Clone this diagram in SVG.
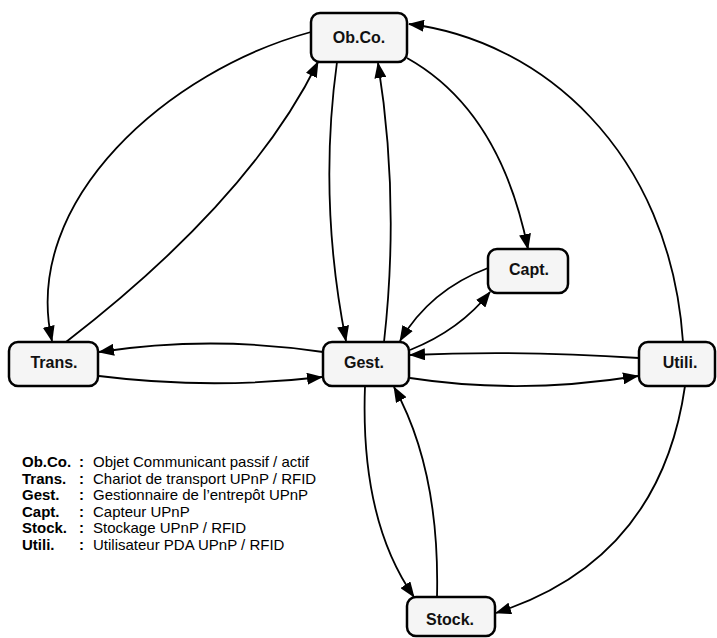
<svg xmlns="http://www.w3.org/2000/svg" width="717" height="638" viewBox="0 0 717 638">
<style>
.node rect{fill:#f5f5f5;stroke:#000;stroke-width:2.5}
.node text{font-family:"Liberation Sans",Arial,sans-serif;font-weight:bold;font-size:16px;text-anchor:middle;fill:#111}
.edges path{fill:none;stroke:#000;stroke-width:1.8;marker-end:url(#ah)}
.leg{font-family:"Liberation Sans",Arial,sans-serif;font-size:15px;fill:#000}
.leg .b{font-weight:bold}
</style>
<defs>
<marker id="ah" markerUnits="userSpaceOnUse" markerWidth="16" markerHeight="12" refX="15" refY="6" orient="auto">
<path d="M0,0 L16,6 L0,12 z" fill="#000"/>
</marker>
</defs>
<rect width="717" height="638" fill="#fff"/>
<g class="edges">
<path d="M683,342 C670,150 540,40 409,24"/>
<path d="M407,58 Q500,110 528,249"/>
<path d="M311,32 C170,70 20,200 52,341"/>
<path d="M66,342 Q250,200 318,62"/>
<path d="M337,62 Q318,200 346,341"/>
<path d="M384,342 Q400,200 378,63"/>
<path d="M488,268 Q430,290 400,341"/>
<path d="M410,350 Q460,330 490,292"/>
<path d="M323,352 Q210,335 99,352"/>
<path d="M99,376 Q210,390 322,377"/>
<path d="M639,358 Q520,350 410,355"/>
<path d="M410,378 Q520,395 638,376"/>
<path d="M365,386 Q360,520 414,597"/>
<path d="M437,597 Q440,470 394,387"/>
<path d="M685,386 Q660,560 496,613"/>
</g>
<g id="obco" class="node"><rect x="311" y="13" width="96" height="49" rx="9"/><text x="359" y="43">Ob.Co.</text></g>
<g id="trans" class="node"><rect x="9" y="342" width="89" height="44" rx="9"/><text x="54" y="368">Trans.</text></g>
<g id="gest" class="node"><rect x="323" y="342" width="86" height="44" rx="9"/><text x="364" y="368">Gest.</text></g>
<g id="capt" class="node"><rect x="488" y="249" width="80" height="44" rx="9"/><text x="529" y="275">Capt.</text></g>
<g id="utili" class="node"><rect x="639" y="342" width="76" height="44" rx="9"/><text x="680" y="368">Utili.</text></g>
<g id="stock" class="node"><rect x="407" y="597" width="88" height="39" rx="9"/><text x="450" y="625">Stock.</text></g>
<g class="leg">
<text x="22" y="467" class="b">Ob.Co.</text><text x="79" y="467" class="b">:</text><text x="93" y="467">Objet Communicant passif / actif</text>
<text x="22" y="483.5" class="b">Trans.</text><text x="79" y="483.5" class="b">:</text><text x="93" y="483.5">Chariot de transport UPnP / RFID</text>
<text x="22" y="500" class="b">Gest.</text><text x="79" y="500" class="b">:</text><text x="93" y="500">Gestionnaire de l’entrepôt UPnP</text>
<text x="22" y="516.5" class="b">Capt.</text><text x="79" y="516.5" class="b">:</text><text x="93" y="516.5">Capteur UPnP</text>
<text x="22" y="533" class="b">Stock.</text><text x="79" y="533" class="b">:</text><text x="93" y="533">Stockage UPnP / RFID</text>
<text x="22" y="549.5" class="b">Utili.</text><text x="79" y="549.5" class="b">:</text><text x="93" y="549.5">Utilisateur PDA UPnP / RFID</text>
</g>
</svg>
